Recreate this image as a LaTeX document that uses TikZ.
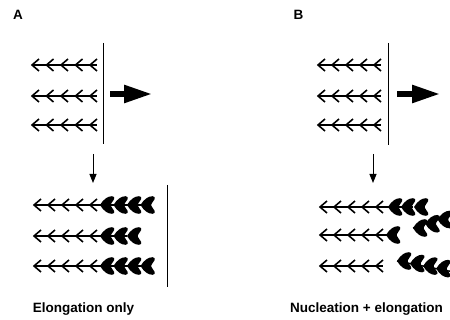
\documentclass[tikz,border=0pt]{standalone}
\usepackage{fontspec}
\setmainfont{Liberation Sans}
\usetikzlibrary{arrows.meta}

\begin{document}
\begin{tikzpicture}[
  x=1pt, y=-1pt,
  lbl/.style={font=\fontsize{13.5}{16}\selectfont\bfseries, inner sep=0pt, anchor=base},
  axis/.style={line width=1.4pt},
  wall/.style={line width=1pt},
  push/.style={line width=5.5pt, -{Triangle[length=28pt, width=17pt]}},
  step down/.style={line width=1pt, -{Triangle[length=9pt, width=7pt]}},
  pics/barb/.style={code={
    \draw[line width=1.6pt] (7,-6) -- (0,0) -- (7,6);}},
  pics/newbarb/.style={code={
    \fill (0,0) .. controls (3.5,-6) and (8,-8.8) .. (12,-8.8)
      .. controls (14.2,-8.8) and (15,-7.2) .. (14.2,-6) -- (10.8,-0.8)
      -- (10.8,0.8) -- (14.2,6) .. controls (15,7.2) and (14.2,8.8) .. (12,8.8)
      .. controls (8,8.8) and (3.5,6) .. cycle;}}
]
  \path[use as bounding box] (0,0) rectangle (450,320);
  \clip (0,0) rectangle (450,320);

  % Panel labels
  \node[lbl] (labA) at (18,20) {A};
  \node[lbl] (labB) at (298.5,20) {B};

  % A: filaments before the push
  \foreach \y in {65,96,125} {
    \draw[axis] (32,\y) -- (97,\y);
    \foreach \i in {0,...,4} \pic at ({32+14.5*\i},\y) {barb};
  }
  \draw[wall] (103,43) -- (103,144);
  \coordinate (pushA0) at (110,94);
  \coordinate (pushA1) at (152,94);
  \draw[push] (pushA0) -- (pushA1);

  % A: arrow to the next stage
  \coordinate (downA0) at (93,154);
  \coordinate (downA1) at (93,183);
  \draw[step down] (downA0) -- (downA1);

  % A: old filaments grow at their ends
  \foreach \y/\n in {205/3,236/2,266/3} {
    \draw[axis] (34,\y) -- ({100+13.5*\n},\y);
    \foreach \i in {0,...,4} \pic at ({34+14*\i},\y) {barb};
    \foreach \i in {0,...,\n} \pic at ({100+13.5*\i},\y) {newbarb};
  }
  \draw[wall] (167,185) -- (167,287);

  % B: filaments before the push
  \foreach \y in {65,96,125} {
    \draw[axis] (318,\y) -- (381,\y);
    \foreach \i in {0,...,4} \pic at ({318+14*\i},\y) {barb};
  }
  \draw[wall] (388,43) -- (388,145);
  \coordinate (pushB0) at (397,94);
  \coordinate (pushB1) at (440,94);
  \draw[push] (pushB0) -- (pushB1);

  % B: arrow to the next stage
  \coordinate (downB0) at (373,154);
  \coordinate (downB1) at (373,183);
  \draw[step down] (downB0) -- (downB1);

  % B: old filaments
  \draw[axis] (320,207) -- (413,207);
  \draw[axis] (320,235) -- (388,235);
  \draw[axis] (320,266) -- (383,266);
  \foreach \y in {207,235,266}
    \foreach \i in {0,...,4} \pic at ({320+14*\i},\y) {barb};
  \foreach \i in {0,...,2} \pic at ({388+13*\i},207) {newbarb};
  \pic at (386,235) {newbarb};

  % B: newly nucleated filaments
  \begin{scope}[shift={(413,228)}, rotate=19]
    \draw[axis] (0,0) -- (60,0);
    \foreach \i in {0,...,3} \pic at ({13*\i},0) {newbarb};
  \end{scope}
  \begin{scope}[shift={(397,261)}, rotate=-11]
    \draw[axis] (0,0) -- (70,0);
    \foreach \i in {0,...,4} \pic at ({13.3*\i},0) {newbarb};
  \end{scope}

  % Captions
  \node[lbl] (capA) at (83.5,313) {Elongation only};
  \node[lbl] (capB) at (366.5,313) {Nucleation + elongation};
\end{tikzpicture}
\end{document}
